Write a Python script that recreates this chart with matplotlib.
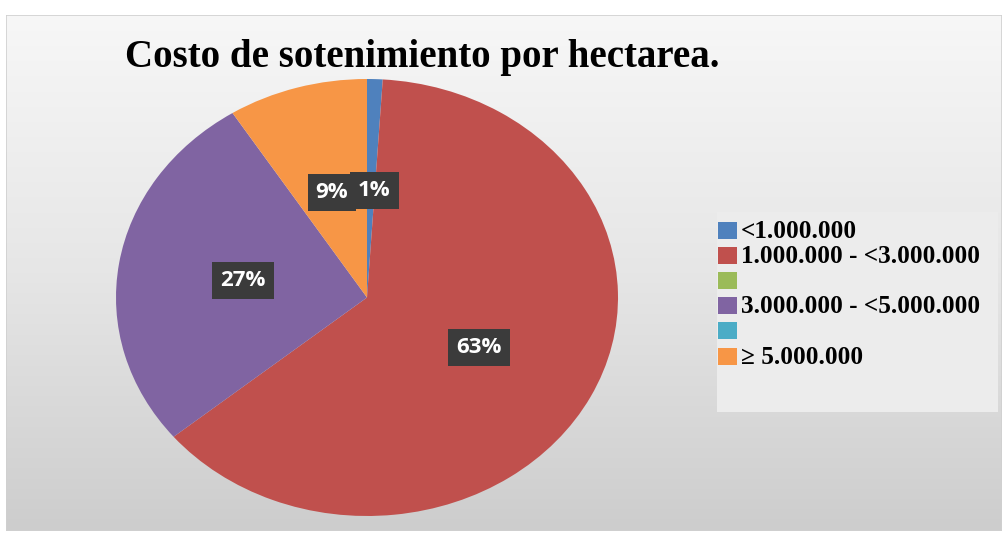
import numpy as np
import matplotlib
matplotlib.use("Agg")
import matplotlib.pyplot as plt
from matplotlib.patches import Rectangle

# Cost ranges (pesos per hectare) and share of respondents (%)
categories = ["<1.000.000", "1.000.000 - <3.000.000", "", "3.000.000 - <5.000.000", "", "\u2265 5.000.000"]
shares = [1, 63, 0, 27, 0, 9]
colors = ["#4F81BD", "#C0504D", "#9BBB59", "#8064A2", "#4BACC6", "#F79646"]
title = "Costo de sotenimiento por hectarea."

W, H = 1002, 534
fig = plt.figure(figsize=(W / 100, H / 100), dpi=100)
fig.patch.set_facecolor("white")


def frac(x0, y0, x1, y1):
    """Pixel box (top-left origin) -> figure fraction rect."""
    return [x0 / W, 1 - y1 / H, (x1 - x0) / W, (y1 - y0) / H]


# Chart area with a soft vertical gradient
bg = fig.add_axes(frac(6, 15, W, 531))
bg.set_axis_off()
grad = np.linspace(0, 1, 256)[:, None]
cmap = matplotlib.colors.LinearSegmentedColormap.from_list("bg", ["#f7f7f7", "#e6e6e6", "#cdcdcd"])
bg.imshow(grad, aspect="auto", cmap=cmap, extent=[0, 1, 0, 1], origin="upper")
bg.set_xlim(0, 1)
bg.set_ylim(0, 1)
bg.add_patch(Rectangle((0, 0), 1, 1, fill=False, edgecolor="#d0d0d0", lw=1.2, transform=bg.transAxes))

# Title
fig.text(422 / W, 1 - 58 / H, title, ha="center", va="center",
         fontsize=28, fontweight="bold", family="Liberation Serif", color="black")

# Pie (stretched to an ellipse via non-equal aspect)
ax = fig.add_axes(frac(116, 79, 618, 516))
wedges, texts, autotexts = ax.pie(
    shares, colors=colors, startangle=90, counterclock=False,
    autopct=lambda p: f"{p:.0f}%" if p > 0.5 else "", pctdistance=0.5,
    wedgeprops=dict(linewidth=0),
    textprops=dict(color="white", fontsize=16, fontweight="bold", family="Open Sans"),
)
ax.set_aspect("auto")
ax.set_xlim(-1.0, 1.0)
ax.set_ylim(-1.0, 1.0)
ax.set_axis_off()
for i, t in enumerate(autotexts):
    t.set_bbox(dict(boxstyle="square,pad=0.36", facecolor="#3b3b3b", edgecolor="none"))
    t.set_zorder(10 - i)
# nudge the narrow first label clear of its neighbour
x0, y0 = autotexts[0].get_position()
autotexts[0].set_position((x0 + 0.014, y0 - 0.01))

# Legend panel with colour keys and range labels
lg_ax = fig.add_axes(frac(717, 212, 998, 412))
lg_ax.set_axis_off()
lg_ax.set_xlim(717, 998)
lg_ax.set_ylim(412, 212)
lg_ax.add_patch(Rectangle((717, 212), 281, 200, facecolor="#ececec", edgecolor="none"))
row0, row_step = 230, 25.2
for i, (w, label) in enumerate(zip(wedges, categories)):
    yc = row0 + i * row_step
    lg_ax.add_patch(Rectangle((718, yc - 8.5), 19, 17, facecolor=w.get_facecolor(), edgecolor="none"))
    lg_ax.text(741, yc + 1, label, ha="left", va="center", fontsize=18.2,
               fontweight="bold", family="Liberation Serif", color="black")

fig.savefig("out.png", dpi=100)
